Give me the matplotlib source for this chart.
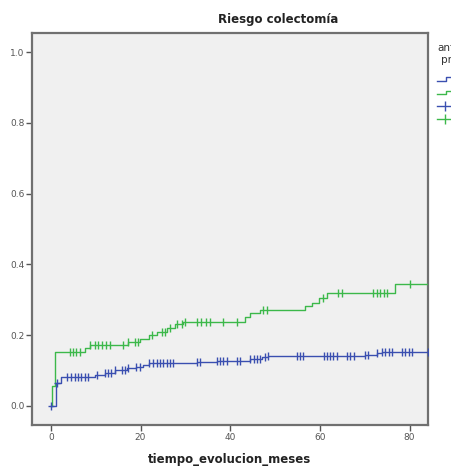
import matplotlib
matplotlib.use("Agg")
import matplotlib.pyplot as plt
from matplotlib.lines import Line2D
from matplotlib.legend_handler import HandlerBase

# Step curves (time in months, cumulative risk)
blue_t = [0, 1.1, 2.2, 9.8, 12.0, 14.3, 16.9, 19.1, 20.6, 22.0, 32.5, 37.0, 44.4, 47.0, 48.4, 70.1, 72.7, 73.8, 85]
blue_y = [0.0, 0.066, 0.083, 0.088, 0.094, 0.102, 0.106, 0.111, 0.116, 0.120, 0.125, 0.128, 0.133, 0.138, 0.140, 0.144, 0.150, 0.152, 0.152]

green_t = [0, 0.3, 0.9, 7.6, 8.7, 17.3, 19.9, 22.0, 23.6, 25.8, 27.7, 29.5, 43.3, 44.4, 46.7, 56.7, 58.2, 59.7, 61.5, 76.8, 85]
green_y = [0.0, 0.056, 0.151, 0.163, 0.172, 0.182, 0.188, 0.200, 0.210, 0.219, 0.232, 0.238, 0.252, 0.262, 0.271, 0.282, 0.292, 0.304, 0.318, 0.345, 0.345]

# Censored observations (times)
blue_cens = [0, 1.3, 3.5, 4.6, 5.4, 6.1, 6.8, 7.6, 8.3, 10.3, 12.0, 12.8, 13.5, 14.3,
             15.8, 16.5, 17.3, 19.1, 19.9, 22.0, 22.8, 23.6, 24.3, 25.1, 25.8, 26.6,
             27.3, 32.5, 33.3, 37.0, 37.7, 38.5, 39.2, 41.5, 42.2, 44.4, 45.2, 45.9,
             46.7, 47.8, 48.5, 54.8, 55.5, 56.3, 60.8, 61.5, 62.3, 63.0, 63.8, 66.0,
             66.7, 67.5, 70.1, 70.8, 72.7, 73.8, 74.6, 75.3, 76.0, 78.3, 79.0, 79.8,
             80.5, 84.0]
green_cens = [4.2, 5.0, 5.7, 6.5, 8.7, 9.8, 10.6, 11.3, 12.4, 13.2, 16.1, 17.3, 18.8,
              19.5, 22.5, 24.7, 25.4, 26.6, 28.1, 29.2, 29.9, 32.5, 33.5, 34.5, 35.5,
              38.5, 41.5, 47.4, 48.3, 60.6, 64.1, 64.9, 71.9, 72.7, 73.5, 74.2, 74.9,
              80.1]

legend_title = "antiTNF\nprevio"
legend_labels = ["No", "Sí", "No-censurado", "Sí-censurado"]

BLUE = "#3a4fb0"
GREEN = "#3cb84a"


def step_value(ts, ys, t):
    v = ys[0]
    for ti, yi in zip(ts, ys):
        if ti <= t:
            v = yi
    return v


class StepHandler(HandlerBase):
    def create_artists(self, legend, orig_handle, xdescent, ydescent, width, height,
                       fontsize, trans):
        x0, x1 = -xdescent, -xdescent + width
        xm = x0 + 0.55 * width
        yl = -ydescent + 0.2 * height
        yh = -ydescent + 0.75 * height
        ln = Line2D([x0, xm, xm, x1], [yl, yl, yh, yh], color=orig_handle.get_color(),
                    lw=1.0, transform=trans)
        return [ln]


fig = plt.figure(figsize=(4.52, 4.68), dpi=100)
ax = fig.add_axes([32/452, 43/468, 396/452, 392/468])
ax.set_facecolor("#f0f0f0")

ax.step(blue_t, blue_y, where="post", color=BLUE, lw=1.0, zorder=3)
ax.step(green_t, green_y, where="post", color=GREEN, lw=1.0, zorder=3)
ax.plot(blue_cens, [step_value(blue_t, blue_y, t) for t in blue_cens], ls="none",
        marker="|", ms=6, mew=1.0, color=BLUE, zorder=4)
ax.plot(green_cens, [step_value(green_t, green_y, t) for t in green_cens], ls="none",
        marker="|", ms=6, mew=1.0, color=GREEN, zorder=4)
ax.plot([0, 1.3], [0, 0.066], ls="none", marker="_", ms=5, mew=1.0, color=BLUE, zorder=4)

ax.set_xlim(-4.2, 84.1)
ax.set_ylim(-0.054, 1.054)
ax.set_xticks([0, 20, 40, 60, 80])
ax.set_yticks([0.0, 0.2, 0.4, 0.6, 0.8, 1.0])
ax.set_yticklabels(["0.0", "0.2", "0.4", "0.6", "0.8", "1.0"])
ax.tick_params(axis="both", labelsize=6.5, labelcolor="#555555", color="#555555",
               length=4, width=1.0, pad=1.5)
for s in ax.spines.values():
    s.set_color("#707070")
    s.set_linewidth(1.6)

ax.set_xlabel("tiempo_evolucion_meses", fontsize=8.5, fontweight="bold", labelpad=8,
              color="#222222")
fig.text(278/452, 1 - 20/468, "Riesgo colectomía", ha="center", va="center",
         fontsize=8.5, fontweight="bold", color="#222222")

h_line_b = Line2D([0], [0], color=BLUE, lw=1.0)
h_line_g = Line2D([0], [0], color=GREEN, lw=1.0)
handles = [h_line_b, h_line_g,
           Line2D([0], [0], color=BLUE, lw=1.0, marker="|", ms=7),
           Line2D([0], [0], color=GREEN, lw=1.0, marker="|", ms=7)]
leg = fig.legend(handles, legend_labels, title=legend_title, loc="upper left",
                 bbox_to_anchor=(437/452, 1 - 43/468), frameon=False, fontsize=7,
                 title_fontsize=7.5, handlelength=1.6, handletextpad=0.5,
                 labelspacing=0.35, borderaxespad=0, borderpad=0,
                 handler_map={h_line_b: StepHandler(), h_line_g: StepHandler()})
leg._legend_box.align = "left"
leg._legend_box.sep = 7
leg.get_title().set_multialignment("center")
leg.get_title().set_color("#333333")

fig.savefig("out.png", dpi=100)
